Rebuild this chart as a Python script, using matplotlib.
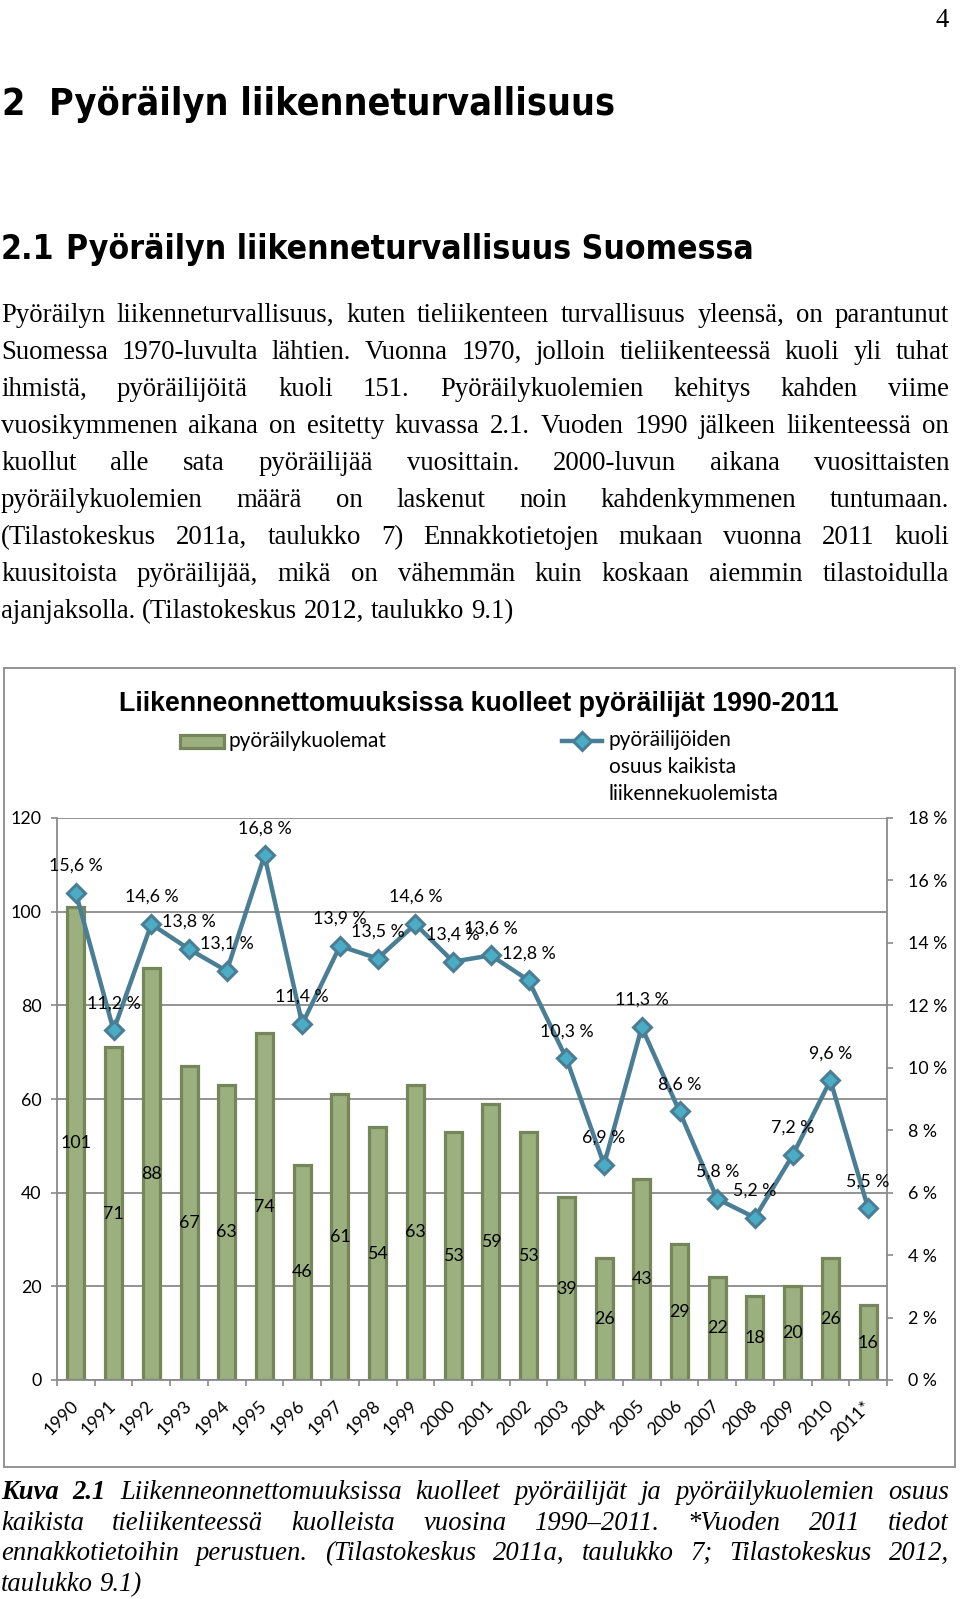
import matplotlib
matplotlib.use('Agg')
import matplotlib.pyplot as plt
from matplotlib import font_manager
from matplotlib.font_manager import FontProperties
from matplotlib.patches import Rectangle
from matplotlib.lines import Line2D
import numpy as np

# ---------------- data ----------------
years = ['1990', '1991', '1992', '1993', '1994', '1995', '1996', '1997', '1998', '1999', '2000',
         '2001', '2002', '2003', '2004', '2005', '2006', '2007', '2008', '2009', '2010', '2011*']
deaths = [101, 71, 88, 67, 63, 74, 46, 61, 54, 63, 53, 59, 53, 39, 26, 43, 29, 22, 18, 20, 26, 16]
share_pct = [15.6, 11.2, 14.6, 13.8, 13.1, 16.8, 11.4, 13.9, 13.5, 14.6, 13.4, 13.6, 12.8, 10.3,
             6.9, 11.3, 8.6, 5.8, 5.2, 7.2, 9.6, 5.5]
left_ticks = [0, 20, 40, 60, 80, 100, 120]
right_ticks = [0, 2, 4, 6, 8, 10, 12, 14, 16, 18]

chart_title = 'Liikenneonnettomuuksissa kuolleet pyöräilijät 1990-2011'
legend_bar = 'pyöräilykuolemat'
legend_line = 'pyöräilijöiden\nosuus kaikista\nliikennekuolemista'

page_number = '4'
heading1 = ('2', 'Pyöräilyn liikenneturvallisuus')
heading2 = ('2.1', 'Pyöräilyn liikenneturvallisuus Suomessa')
paragraph_lines = [
    'Pyöräilyn liikenneturvallisuus, kuten tieliikenteen turvallisuus yleensä, on parantunut',
    'Suomessa 1970-luvulta lähtien. Vuonna 1970, jolloin tieliikenteessä kuoli yli tuhat',
    'ihmistä, pyöräilijöitä kuoli 151. Pyöräilykuolemien kehitys kahden viime',
    'vuosikymmenen aikana on esitetty kuvassa 2.1. Vuoden 1990 jälkeen liikenteessä on',
    'kuollut alle sata pyöräilijää vuosittain. 2000-luvun aikana vuosittaisten',
    'pyöräilykuolemien määrä on laskenut noin kahdenkymmenen tuntumaan.',
    '(Tilastokeskus 2011a, taulukko 7) Ennakkotietojen mukaan vuonna 2011 kuoli',
    'kuusitoista pyöräilijää, mikä on vähemmän kuin koskaan aiemmin tilastoidulla',
    'ajanjaksolla. (Tilastokeskus 2012, taulukko 9.1)',
]
caption_bold = 'Kuva 2.1'
caption_lines = [
    'Liikenneonnettomuuksissa kuolleet pyöräilijät ja pyöräilykuolemien osuus',
    'kaikista tieliikenteessä kuolleista vuosina 1990–2011. *Vuoden 2011 tiedot',
    'ennakkotietoihin perustuen. (Tilastokeskus 2011a, taulukko 7; Tilastokeskus 2012,',
    'taulukko 9.1)',
]

# ---------------- setup ----------------
W, H = 960, 1599
fig = plt.figure(figsize=(W / 100, H / 100), dpi=100)
renderer = fig.canvas.get_renderer()

# look for a narrow / condensed bold sans for the headings
head_fp = None
files = [f.fname for f in font_manager.fontManager.ttflist]
for key in ('LiberationSansNarrow-Bold.', 'DejaVuSansCondensed-Bold.'):
    for fn in files:
        if key in fn.replace(' ', ''):
            head_fp = FontProperties(fname=fn)
            break
    if head_fp is not None:
        break
if head_fp is None:
    head_fp = FontProperties(family='Liberation Sans', weight='bold')

serif = ['Liberation Serif', 'DejaVu Serif']
chartfont = ['Lato', 'DejaVu Sans']


def fx(x):
    return x / W


def fy(y):
    return 1 - y / H


def width_of(s, **kw):
    t = fig.text(0, 0, s, **kw)
    w = t.get_window_extent(renderer).width
    t.remove()
    return w


def fit_size(s, target, **kw):
    w = width_of(s, fontsize=20, **kw)
    return 20 * target / w


def fit_size_fp(s, target, fp):
    p = fp.copy()
    p.set_size(20)
    w = width_of(s, fontproperties=p)
    return 20 * target / w


def draw_words(words, x0, x1, baseline, justify, base_kw):
    widths = [width_of(w, **{**base_kw, **k}) for w, k in words]
    space = width_of('n n', **base_kw) - width_of('nn', **base_kw)
    if justify and len(words) > 1:
        gap = (x1 - x0 - sum(widths)) / (len(words) - 1)
    else:
        gap = space
    x = x0
    for (w, k), wd in zip(words, widths):
        fig.text(fx(x), fy(baseline), w, ha='left', va='baseline', **{**base_kw, **k})
        x += wd + gap


# ---------------- page text ----------------
para_kw = dict(family=serif, color='black')
para_fs = fit_size(paragraph_lines[-1], 513, **para_kw)
para_kw['fontsize'] = para_fs

fig.text(fx(949), fy(27), page_number, ha='right', va='baseline', fontsize=para_fs, family=serif)

h1 = head_fp.copy()
h1.set_size(fit_size_fp(heading1[1], 566, head_fp))
h2 = head_fp.copy()
h2.set_size(fit_size_fp(heading2[1], 690, head_fp))
fig.text(fx(1), fy(115), heading1[0], ha='left', va='baseline', fontproperties=h1)
fig.text(fx(49), fy(115), heading1[1], ha='left', va='baseline', fontproperties=h1)
fig.text(fx(1), fy(259), heading2[0], ha='left', va='baseline', fontproperties=h2)
fig.text(fx(66), fy(259), heading2[1], ha='left', va='baseline', fontproperties=h2)

for i, line in enumerate(paragraph_lines):
    words = [(w, {}) for w in line.split()]
    draw_words(words, 1, 949, 322.4 + 37.0 * i, i < len(paragraph_lines) - 1, para_kw)

cap_kw = dict(family=serif, style='italic', color='black')
cap_fs = fit_size(caption_lines[-1], 141, **cap_kw)
cap_kw['fontsize'] = cap_fs
for i, line in enumerate(caption_lines):
    words = [(w, {}) for w in line.split()]
    if i == 0:
        words = [(w, {'fontweight': 'bold'}) for w in caption_bold.split()] + words
    draw_words(words, 1, 949, 1499 + 30.7 * i, i < len(caption_lines) - 1, cap_kw)

# ---------------- chart ----------------
grey = '#8a8a8a'
bar_face = '#9bb07e'
bar_edge = '#75865a'
line_col = '#4a7e95'
mark_face = '#4bacc6'
cfs = 12.8
lfs = 15

fig.add_artist(Rectangle((fx(4), fy(1467)), (955 - 4) / W, (1467 - 668) / H,
                         transform=fig.transFigure, fill=False, ec=grey, lw=1.3))

title_fs = fit_size(chart_title, 720, family=['Liberation Sans', 'DejaVu Sans'], fontweight='bold')
fig.text(fx(479), fy(711), chart_title, ha='center', va='baseline', fontsize=title_fs,
         family=['Liberation Sans', 'DejaVu Sans'], fontweight='bold')

ax = fig.add_axes([fx(57), fy(1380), 830 / W, 562 / H])
x = np.arange(len(years))
ax.bar(x, deaths, width=0.45, color=bar_face, edgecolor=bar_edge, linewidth=2.3, zorder=2)
for xi, v in zip(x, deaths):
    ax.text(xi, v / 2, str(v), ha='center', va='center', fontsize=cfs, family=chartfont,
            color='black', zorder=4)
ax.set_xlim(-0.5, len(years) - 0.5)
ax.set_ylim(0, 120)
ax.set_yticks(left_ticks)
ax.set_yticklabels([str(t) for t in left_ticks], fontsize=cfs, family=chartfont)
ax.yaxis.grid(True, color=grey, lw=1.3, zorder=0)
ax.set_axisbelow(True)
for s in ['top', 'right']:
    ax.spines[s].set_visible(False)
for s in ['left', 'bottom']:
    ax.spines[s].set_color(grey)
    ax.spines[s].set_linewidth(1.3)
ax.set_xticks(np.arange(-0.5, len(years), 1))
ax.set_xticklabels([])
ax.set_xticks(x, minor=True)
ax.set_xticklabels(years, minor=True, rotation=45, ha='right', va='center',
                   rotation_mode='anchor', fontsize=cfs, family=chartfont)
ax.tick_params(axis='x', which='minor', length=0, pad=17)
ax.tick_params(axis='x', which='major', length=4, width=1.2, color=grey, direction='out')
ax.tick_params(axis='y', length=4, width=1.2, color=grey, pad=7)

ax2 = ax.twinx()
ax2.plot(x, share_pct, color=line_col, lw=3.2, marker='D', ms=9, mfc=mark_face, mec=line_col,
         mew=2.2, zorder=3)
for xi, p in zip(x, share_pct):
    ax2.annotate(f'{p:.1f}'.replace('.', ',') + ' %', (xi, p), xytext=(0, 19.5),
                 textcoords='offset points', ha='center', va='center', fontsize=cfs,
                 family=chartfont, color='black')
ax2.set_ylim(0, 18)
ax2.set_yticks(right_ticks)
ax2.set_yticklabels([f'{t} %' for t in right_ticks], fontsize=cfs, family=chartfont)
for s in ['top', 'left', 'bottom']:
    ax2.spines[s].set_visible(False)
ax2.spines['right'].set_color(grey)
ax2.spines['right'].set_linewidth(1.3)
ax2.tick_params(axis='y', length=4, width=1.2, color=grey, pad=11)

# legend
fig.add_artist(Rectangle((fx(180), fy(748)), 44 / W, 13 / H, transform=fig.transFigure,
                         fc=bar_face, ec=bar_edge, lw=2.3))
fig.text(fx(228), fy(741), legend_bar, ha='left', va='center', fontsize=lfs, family=chartfont)
fig.add_artist(Line2D([fx(562), fx(602)], [fy(741), fy(741)], transform=fig.transFigure,
                      color=line_col, lw=3.2))
fig.add_artist(Line2D([fx(582)], [fy(741)], transform=fig.transFigure, color=line_col,
                      marker='D', ms=9, mfc=mark_face, mec=line_col, mew=2.2))
fig.text(fx(609), fy(730), legend_line, ha='left', va='top', fontsize=lfs, family=chartfont,
         linespacing=1.45)

fig.savefig('out.png', dpi=100)
